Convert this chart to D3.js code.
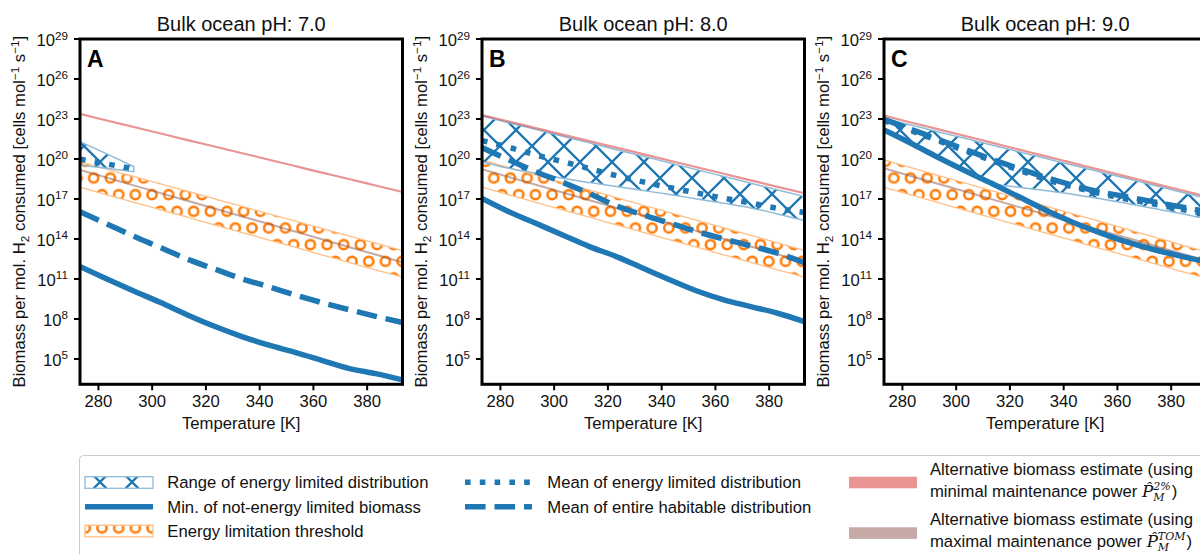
<!DOCTYPE html>
<html><head><meta charset="utf-8">
<script src="https://cdn.jsdelivr.net/npm/d3@7"></script>
<style>
body{margin:0;background:#fff;}
svg{display:block;font-family:"Liberation Sans",Arial,Helvetica,sans-serif;}
</style>
</head><body>
<svg id="chart" width="1200" height="554"></svg>
<script>
// ---------------- DATA (values are log10 of biomass per mol H2) ----------------
const temperatureK = [273.15,283.15,293.15,303.15,313.15,323.15,333.15,343.15,353.15,363.15,373.15,383.15,393.15];
const xTicks = [280,300,320,340,360,380];
const yTickExponents = [5,8,11,14,17,20,23,26,29];
const phLabels = ["7.0","8.0","9.0"];
const panelLetters = ["A","B","C"];

// Panel A (pH 7.0)
const alt2pctA  = [23.38,22.89,22.40,21.91,21.42,20.94,20.45,19.96,19.47,18.98,18.50,18.01,17.52];
const altTomA   = [19.18,18.60,18.02,17.44,16.87,16.29,15.71,15.14,14.56,13.98,13.40,12.83,12.25];
const thrHiA    = [19.80,19.24,18.69,18.13,17.58,17.02,16.46,15.91,15.35,14.79,14.24,13.68,13.13];
const thrLoA    = [17.88,17.31,16.75,16.19,15.63,15.06,14.50,13.94,13.38,12.81,12.25,11.69,11.13];
const rangeHiA  = [21.30,20.38,19.43,null,null,null,null,null,null,null,null,null,null];
const rangeLoA  = [19.55,19.30,19.05,null,null,null,null,null,null,null,null,null,null];
const meanElA   = [19.98,19.63,19.25,null,null,null,null,null,null,null,null,null,null];
const meanAllA  = [16.05,15.13,14.20,13.35,12.48,11.75,11.03,10.43,9.80,9.23,8.70,8.20,7.73];
const minNelA   = [11.93,11.00,10.10,9.23,8.30,7.45,6.70,6.05,5.50,4.90,4.30,3.90,3.43];

// Panel B (pH 8.0)
const alt2pctB  = [23.30,22.81,22.32,21.83,21.34,20.85,20.36,19.87,19.38,18.89,18.40,17.91,17.43];
const altTomB   = [19.23,18.65,18.07,17.49,16.91,16.33,15.75,15.17,14.59,14.01,13.43,12.85,12.25];
const thrHiB    = [19.93,19.36,18.80,18.23,17.67,17.10,16.53,15.97,15.40,14.84,14.27,13.71,13.13];
const thrLoB    = [17.88,17.31,16.75,16.19,15.63,15.06,14.50,13.94,13.38,12.81,12.25,11.69,11.13];
const rangeHiB  = [23.23,22.72,22.22,21.71,21.21,20.70,20.20,19.70,19.19,18.69,18.18,17.68,17.18];
const rangeLoB  = [19.80,19.30,18.93,18.55,18.23,17.93,17.63,17.33,17.00,16.68,16.33,15.88,15.38];
const meanElB   = [21.38,20.88,20.30,19.80,19.28,18.75,18.28,17.85,17.45,17.05,16.70,16.30,15.98];
const meanAllB  = [20.85,19.93,19.05,18.25,17.40,16.48,15.80,15.18,14.55,14.00,13.48,12.93,12.23];
const minNelB   = [17.05,16.05,15.18,14.30,13.43,12.68,11.80,10.93,10.10,9.43,8.93,8.43,7.80];

// Panel C (pH 9.0)
const alt2pctC  = [23.25,22.74,22.24,21.73,21.23,20.72,20.21,19.71,19.20,18.70,18.19,17.69,17.18];
const altTomC   = [19.30,18.72,18.14,17.57,16.99,16.41,15.84,15.26,14.68,14.11,13.53,12.95,12.38];
const thrHiC    = [19.93,19.35,18.78,18.20,17.63,17.05,16.48,15.90,15.33,14.75,14.18,13.60,13.03];
const thrLoC    = [17.88,17.31,16.74,16.17,15.60,15.03,14.46,13.89,13.32,12.75,12.18,11.61,11.05];
const rangeHiC  = [23.05,22.55,22.05,21.55,21.05,20.55,20.05,19.55,19.05,18.55,18.05,17.55,17.05];
const rangeLoC  = [22.18,21.18,20.13,19.13,18.18,17.88,17.63,17.35,17.03,16.68,16.30,15.93,15.50];
const meanElC   = [22.88,22.13,21.38,20.63,19.88,19.18,18.48,17.93,17.43,17.00,16.63,16.25,15.88];
const meanAllC  = [22.98,22.23,21.48,20.73,19.98,19.30,18.63,18.05,17.55,17.18,16.80,16.43,16.05];
const minNelC   = [22.18,21.18,20.13,19.13,18.18,17.18,16.18,15.28,14.50,13.80,13.23,12.73,12.28];

const legendLeft  = ["Range of energy limited distribution","Min. of not-energy limited biomass","Energy limitation threshold"];
const legendMid   = ["Mean of energy limited distribution","Mean of entire habitable distribution"];

// ---------------- STYLE ----------------
const BLUE="#1f77b4", ORANGE="#ff7f0e", LBLUE="#8fbbd9", LORANGE="#ffbf86";
const LW=5.5;
const panels = [
 {ph:phLabels[0],letter:panelLetters[0],alt2:alt2pctA,tom:altTomA,thrHi:thrHiA,thrLo:thrLoA,rHi:rangeHiA,rLo:rangeLoA,mEl:meanElA,mAll:meanAllA,minN:minNelA},
 {ph:phLabels[1],letter:panelLetters[1],alt2:alt2pctB,tom:altTomB,thrHi:thrHiB,thrLo:thrLoB,rHi:rangeHiB,rLo:rangeLoB,mEl:meanElB,mAll:meanAllB,minN:minNelB},
 {ph:phLabels[2],letter:panelLetters[2],alt2:alt2pctC,tom:altTomC,thrHi:thrHiC,thrLo:thrLoC,rHi:rangeHiC,rLo:rangeLoC,mEl:meanElC,mAll:meanAllC,minN:minNelC}
];

const svg = d3.select("#chart");
const defs = svg.append("defs");
// X hatch
const P = 32, H = P/2;
const hx = defs.append("pattern").attr("id","hatchX").attr("patternUnits","userSpaceOnUse")
  .attr("width",P).attr("height",P).attr("x",4).attr("y",2);
hx.append("path").attr("d",`M0,0L${P},${P}M0,${P}L${P},0M-${H},${H}L${H},-${H}M${P-H},${P+H}L${P+H},${P-H}M-${H},${P-H}L${H},${P+H}M${P-H},-${H}L${P+H},${H}`)
  .attr("stroke",BLUE).attr("stroke-width",2.3).attr("fill","none");
// O hatch
const ho = defs.append("pattern").attr("id","hatchO").attr("patternUnits","userSpaceOnUse")
  .attr("width",16.67).attr("height",33.33).attr("x",2).attr("y",3);
[[8.33,8.33],[0,25],[16.67,25]].forEach(c=>{
  ho.append("circle").attr("cx",c[0]).attr("cy",c[1]).attr("r",4.6)
    .attr("fill","none").attr("stroke",ORANGE).attr("stroke-width",2.6);
});

const W=322.5, TOP=39, BOTTOM=384.3, FS=16.67;

panels.forEach((p,i)=>{
  const x0 = 80 + 402*i;
  const x = d3.scaleLinear().domain([273.15,393.15]).range([x0,x0+W]);
  const y = d3.scaleLog().domain([Math.pow(10,3.1),1e29]).range([BOTTOM,TOP]);
  const g = svg.append("g");
  defs.append("clipPath").attr("id","clip"+i).append("rect")
    .attr("x",x0).attr("y",TOP).attr("width",W).attr("height",BOTTOM-TOP);
  const plot = g.append("g").attr("clip-path",`url(#clip${i})`);

  const zip1 = arr => temperatureK.map((t,k)=>[t,arr[k]]);
  const zip2 = (lo,hi) => temperatureK.map((t,k)=>[t,lo[k],hi[k]]);
  const line = d3.line().defined(d=>d[1]!=null).x(d=>x(d[0])).y(d=>y(Math.pow(10,d[1]))).curve(d3.curveMonotoneX);
  const area = d3.area().defined(d=>d[1]!=null&&d[2]!=null).x(d=>x(d[0]))
    .y0(d=>y(Math.pow(10,d[1]))).y1(d=>y(Math.pow(10,d[2]))).curve(d3.curveMonotoneX);

  // energy limitation threshold band
  plot.append("path").attr("d",area(zip2(p.thrLo,p.thrHi))).attr("fill","url(#hatchO)")
    .attr("stroke",LORANGE).attr("stroke-width",1.3);
  // alt TOM
  plot.append("path").attr("d",line(zip1(p.tom))).attr("fill","none")
    .attr("stroke","#8c564b").attr("stroke-opacity",0.5).attr("stroke-width",2);
  // range of energy limited distribution
  plot.append("path").attr("d",area(zip2(p.rLo,p.rHi))).attr("fill","url(#hatchX)")
    .attr("stroke",LBLUE).attr("stroke-width",1.5);
  // alt 2%
  plot.append("path").attr("d",line(zip1(p.alt2))).attr("fill","none")
    .attr("stroke","#d62728").attr("stroke-opacity",0.5).attr("stroke-width",2.2);
  // min not-energy limited
  plot.append("path").attr("d",line(zip1(p.minN))).attr("fill","none")
    .attr("stroke",BLUE).attr("stroke-width",LW);
  // mean entire habitable
  plot.append("path").attr("d",line(zip1(p.mAll))).attr("fill","none")
    .attr("stroke",BLUE).attr("stroke-width",LW).attr("stroke-dasharray","20.6,8.9");
  // mean energy limited
  plot.append("path").attr("d",line(zip1(p.mEl))).attr("fill","none")
    .attr("stroke",BLUE).attr("stroke-width",LW).attr("stroke-dasharray","5.6,9.2");

  // frame
  g.append("rect").attr("x",x0).attr("y",TOP).attr("width",W).attr("height",BOTTOM-TOP)
    .attr("fill","none").attr("stroke","#000").attr("stroke-width",3);
  // x ticks
  xTicks.forEach(t=>{
    g.append("line").attr("x1",x(t)).attr("x2",x(t)).attr("y1",BOTTOM).attr("y2",BOTTOM+6)
      .attr("stroke","#000").attr("stroke-width",2);
    g.append("text").attr("x",x(t)).attr("y",407).attr("text-anchor","middle")
      .attr("font-size",FS).attr("fill","#111").text(t);
  });
  // y ticks
  yTickExponents.forEach(e=>{
    const yy = y(Math.pow(10,e));
    g.append("line").attr("x1",x0-6).attr("x2",x0).attr("y1",yy).attr("y2",yy)
      .attr("stroke","#000").attr("stroke-width",2);
    const tx = g.append("text").attr("x",x0-12).attr("y",yy+7).attr("text-anchor","end")
      .attr("fill","#111").attr("font-size",FS);
    tx.append("tspan").text("10");
    tx.append("tspan").attr("font-size",11.7).attr("dy",-6.5).text(e);
  });
  // titles
  g.append("text").attr("x",x0+W/2).attr("y",31).attr("text-anchor","middle")
    .attr("font-size",20).attr("fill","#111").text("Bulk ocean pH: "+p.ph);
  g.append("text").attr("x",x0+7).attr("y",67).attr("font-size",23).attr("font-weight","bold")
    .attr("fill","#000").text(p.letter);
  g.append("text").attr("x",x0+W/2).attr("y",429).attr("text-anchor","middle")
    .attr("font-size",FS).attr("fill","#111").text("Temperature [K]");
  // y label
  const yl = g.append("text").attr("transform",`translate(${x0-55},${(TOP+BOTTOM)/2}) rotate(-90)`)
    .attr("text-anchor","middle").attr("font-size",FS).attr("fill","#111");
  yl.append("tspan").text("Biomass per mol. H");
  yl.append("tspan").attr("font-size",11.7).attr("dy",3.5).text("2");
  yl.append("tspan").attr("dy",-3.5).text(" consumed [cells mol");
  yl.append("tspan").attr("font-size",11.7).attr("dy",-6.5).text("\u22121");
  yl.append("tspan").attr("dy",6.5).text(" s");
  yl.append("tspan").attr("font-size",11.7).attr("dy",-6.5).text("\u22121");
  yl.append("tspan").attr("dy",6.5).text("]");
});

// ---------------- LEGEND ----------------
const lg = svg.append("g");
lg.append("rect").attr("x",79.5).attr("y",455.5).attr("width",1200).attr("height",130).attr("rx",4)
  .attr("fill","#fff").attr("stroke","#cccccc").attr("stroke-width",1);
const rowY = [482.3,506.7,530.9];
// col 1
lg.append("rect").attr("x",85).attr("y",476.7).attr("width",68).attr("height",11.6)
  .attr("fill","url(#hatchX)").attr("stroke",LBLUE).attr("stroke-width",1.3);
lg.append("line").attr("x1",85).attr("x2",153).attr("y1",rowY[1]).attr("y2",rowY[1])
  .attr("stroke",BLUE).attr("stroke-width",LW);
lg.append("rect").attr("x",85).attr("y",525.2).attr("width",68).attr("height",11.6)
  .attr("fill","url(#hatchO)").attr("stroke",LORANGE).attr("stroke-width",1.3);
legendLeft.forEach((s,k)=>lg.append("text").attr("x",167.3).attr("y",rowY[k]+6)
  .attr("font-size",FS).attr("fill","#111").text(s));
// col 2
lg.append("line").attr("x1",465).attr("x2",532).attr("y1",rowY[0]).attr("y2",rowY[0])
  .attr("stroke",BLUE).attr("stroke-width",LW).attr("stroke-dasharray","5.6,9.2");
lg.append("line").attr("x1",465).attr("x2",532).attr("y1",rowY[1]).attr("y2",rowY[1])
  .attr("stroke",BLUE).attr("stroke-width",LW).attr("stroke-dasharray","20.6,8.9");
legendMid.forEach((s,k)=>lg.append("text").attr("x",547.3).attr("y",rowY[k]+6)
  .attr("font-size",FS).attr("fill","#111").text(s));
// col 3
lg.append("rect").attr("x",849).attr("y",476.7).attr("width",68).attr("height",11.6)
  .attr("fill","#d62728").attr("fill-opacity",0.5);
lg.append("rect").attr("x",849).attr("y",527.3).attr("width",68).attr("height",11.6)
  .attr("fill","#8c564b").attr("fill-opacity",0.5);
function mathEntry(yTop, yBot, kind, supTxt){
  lg.append("text").attr("x",930).attr("y",yTop).attr("font-size",FS).attr("fill","#111")
    .text("Alternative biomass estimate (using");
  const t = lg.append("text").attr("x",930).attr("y",yBot).attr("font-size",FS).attr("fill","#111");
  t.append("tspan").text(kind+" maintenance power ");
  t.append("tspan").attr("font-family","DejaVu Serif").attr("font-style","italic").text("P\u0302");
  const m = t.append("tspan").attr("font-family","DejaVu Serif").attr("font-style","italic")
    .attr("font-size",11).attr("dy",4).text("M");
  const mw = m.node().getComputedTextLength();
  t.append("tspan").attr("font-family","DejaVu Serif").attr("font-style","italic")
    .attr("font-size",11).attr("dx",-mw).attr("dy",-11).text(supTxt);
  t.append("tspan").attr("dy",7).attr("dx",1).text(")");
}
mathEntry(475,497,"minimal","2%");
mathEntry(525,547.3,"maximal","TOM");
</script>
</body></html>
